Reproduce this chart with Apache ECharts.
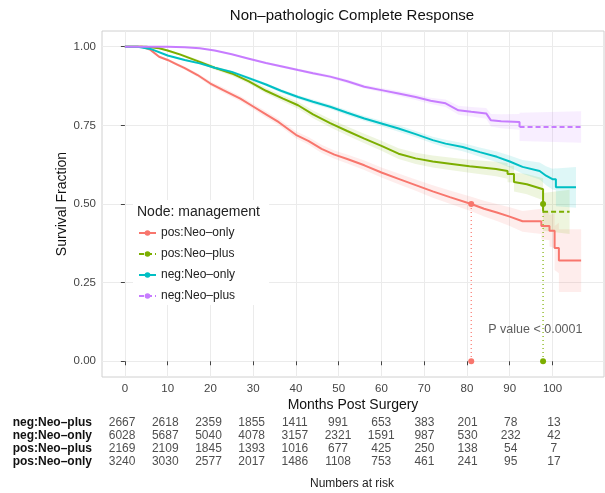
<!DOCTYPE html>
<html><head><meta charset="utf-8">
<script src="https://cdn.jsdelivr.net/npm/echarts@6/dist/echarts.min.js"></script>
<style>html,body{margin:0;padding:0;background:#fff}#c{width:605px;height:493px}</style>
</head><body><div id="c"></div>
<script>
// ---------- data ----------
const groups = ['pos:Neo–only', 'pos:Neo–plus', 'neg:Neo–only', 'neg:Neo–plus'];
const colors = ['#F8766D', '#7CAE00', '#00BFC4', '#C77CFF'];
const xTicks = [0, 10, 20, 30, 40, 50, 60, 70, 80, 90, 100];
const yTicks = [0, 0.25, 0.5, 0.75, 1];

// pos:Neo-only
const posOnlyT = [0,4,6,8,10,12,14,17,20,23,27,30,33,36,40,43,46,49,52,56,60,64,68,72,76,81,84,87,90,93,97.4,97.4,99.3,99.3,100.5,100.5,101.5,101.5,106.7];
const posOnlyS = [1,1,0.99,0.968,0.958,0.945,0.932,0.91,0.883,0.862,0.835,0.81,0.785,0.76,0.72,0.70,0.675,0.657,0.643,0.623,0.60,0.58,0.56,0.54,0.522,0.50,0.485,0.473,0.46,0.445,0.445,0.43,0.43,0.415,0.415,0.36,0.36,0.32,0.32];
const posOnlyCI = [0,0,0.002,0.003,0.004,0.005,0.005,0.006,0.007,0.008,0.008,0.009,0.01,0.01,0.011,0.012,0.013,0.013,0.014,0.015,0.016,0.017,0.018,0.02,0.021,0.023,0.025,0.027,0.03,0.033,0.04,0.042,0.045,0.05,0.055,0.07,0.08,0.1,0.1];

// pos:Neo-plus
const posPlusT = [0,5,8,10,13,17.5,21,25,29,33,37,40.5,44,48,52,56,60,64,68,72,76,80.6,86.8,89.5,89.5,91,91,94,97.8,97.8,104];
const posPlusS = [1,1,0.995,0.988,0.975,0.952,0.933,0.915,0.89,0.86,0.835,0.814,0.785,0.757,0.732,0.708,0.685,0.66,0.645,0.635,0.628,0.62,0.611,0.605,0.595,0.595,0.57,0.563,0.547,0.475,0.475];
const posPlusCI = [0,0,0.002,0.003,0.004,0.005,0.006,0.007,0.008,0.009,0.01,0.011,0.012,0.013,0.014,0.015,0.016,0.017,0.018,0.019,0.02,0.021,0.023,0.025,0.026,0.027,0.03,0.032,0.035,0.06,0.07];

// neg:Neo-only
const negOnlyT = [0,3,6,10,14,17.5,21,25,29,33,36.5,40.5,44,48,52,56,60,64,68,72,75,79,83,87,90,93,97,98.5,100,100.8,100.8,105.5];
const negOnlyS = [1,1,0.993,0.972,0.958,0.947,0.933,0.92,0.9,0.88,0.86,0.84,0.825,0.809,0.79,0.772,0.756,0.74,0.722,0.703,0.692,0.681,0.665,0.65,0.635,0.618,0.605,0.59,0.579,0.579,0.553,0.553];
const negOnlyCI = [0,0,0.001,0.002,0.003,0.003,0.004,0.004,0.005,0.005,0.006,0.006,0.007,0.007,0.008,0.008,0.009,0.01,0.01,0.011,0.012,0.013,0.015,0.017,0.019,0.022,0.027,0.03,0.033,0.035,0.06,0.065];

// neg:Neo-plus
const negPlusT = [0,10,14,17.5,21,25,29,33,36.5,40.5,44,48,52,56,60,64,68,71.5,75,78,81,84.5,85.6,88,92.3,92.3,106.7];
const negPlusS = [1,1,0.998,0.995,0.988,0.976,0.962,0.948,0.938,0.926,0.916,0.905,0.89,0.873,0.862,0.851,0.84,0.828,0.82,0.798,0.793,0.788,0.766,0.763,0.761,0.745,0.745];
const negPlusCI = [0,0,0.001,0.001,0.002,0.002,0.003,0.003,0.004,0.004,0.005,0.005,0.006,0.006,0.007,0.008,0.009,0.01,0.012,0.014,0.015,0.017,0.02,0.022,0.025,0.045,0.05];

// median survival markers (red, green)
const medianTimes = [81, 97.8];
const medianGroupIdx = [0, 1];
const medianLevel = 0.5;

const pValueText = 'P value < 0.0001';
const pValuePos = [96, 0.1];

// numbers at risk
const riskRows = ['neg:Neo–plus', 'neg:Neo–only', 'pos:Neo–plus', 'pos:Neo–only'];
const riskTimes = [0, 10, 20, 30, 40, 50, 60, 70, 80, 90, 100];
const riskNegPlus = [2667, 2618, 2359, 1855, 1411, 991, 653, 383, 201, 78, 13];
const riskNegOnly = [6028, 5687, 5040, 4078, 3157, 2321, 1591, 987, 530, 232, 42];
const riskPosPlus = [2169, 2109, 1845, 1393, 1016, 677, 425, 250, 138, 54, 7];
const riskPosOnly = [3240, 3030, 2577, 2017, 1486, 1108, 753, 461, 241, 95, 17];

// ---------- build ----------
const FONT = 'Liberation Sans, Arial, Helvetica, sans-serif';
const curves = [
  {name: groups[0], T: posOnlyT, S: posOnlyS, CI: posOnlyCI, color: colors[0], dashedTail: false},
  {name: groups[1], T: posPlusT, S: posPlusS, CI: posPlusCI, color: colors[1], dashedTail: true},
  {name: groups[2], T: negOnlyT, S: negOnlyS, CI: negOnlyCI, color: colors[2], dashedTail: false},
  {name: groups[3], T: negPlusT, S: negPlusS, CI: negPlusCI, color: colors[3], dashedTail: true}
];
const series = [];
curves.forEach((c, i) => {
  const rows = c.T.map((t, k) => [t, c.S[k] - c.CI[k], c.S[k] + c.CI[k]]);
  series.push({type: 'custom', name: 'ci-' + i, xAxisIndex: 0, yAxisIndex: 0, data: rows,
    encode: {x: 0, y: [1, 2]}, silent: true, z: 1, animation: false, clip: true,
    renderItem: (params, api) => {
      if (params.dataIndex !== 0) return null;
      const up = rows.map(r => api.coord([r[0], r[2]]));
      const lo = rows.map(r => api.coord([r[0], r[1]])).reverse();
      return {type: 'polygon', shape: {points: up.concat(lo)}, style: {fill: c.color, opacity: 0.13}};
    }});
});
curves.forEach((c, i) => {
  const P = c.T.map((t, k) => [t, c.S[k]]);
  const n = P.length;
  const base = {type: 'line', name: c.name, xAxisIndex: 0, yAxisIndex: 0, symbol: 'circle', showSymbol: false,
    itemStyle: {color: c.color}, z: 3, animation: false, silent: true};
  if (c.dashedTail) {
    series.push(Object.assign({}, base, {data: P.slice(n - 2), lineStyle: {color: c.color, width: 2, type: [5, 3]}}));
    series.push(Object.assign({}, base, {data: P.slice(0, n - 1), lineStyle: {color: c.color, width: 2}}));
  } else {
    series.push(Object.assign({}, base, {data: P, lineStyle: {color: c.color, width: 2}}));
  }
});
medianTimes.forEach((mt, k) => {
  const col = colors[medianGroupIdx[k]];
  series.push({type: 'line', name: 'median-' + k, xAxisIndex: 0, yAxisIndex: 0,
    data: [[mt, medianLevel], [mt, 0]], symbol: 'circle', symbolSize: 6, showSymbol: true,
    lineStyle: {color: col, width: 1.2, type: [1, 3]}, itemStyle: {color: col}, z: 4, animation: false, silent: true});
});
series.push({type: 'scatter', name: 'pvalue', xAxisIndex: 0, yAxisIndex: 0, data: [pValuePos], symbolSize: 0,
  label: {show: true, position: 'inside', formatter: pValueText, fontSize: 12.5, color: '#333', fontFamily: FONT}, silent: true, animation: false});

const riskData = [riskNegPlus, riskNegOnly, riskPosPlus, riskPosOnly];
riskData.forEach((arr, r) => {
  series.push({type: 'scatter', name: 'risk-' + r, xAxisIndex: 1, yAxisIndex: 1,
    data: riskTimes.map((t, k) => [t, r, arr[k]]), symbolSize: 0, encode: {x: 0, y: 1},
    label: {show: true, position: 'inside', formatter: p => String(p.value[2]), fontSize: 12, color: '#222', fontFamily: FONT},
    silent: true, animation: false});
});

const chart = echarts.init(document.getElementById('c'));
chart.setOption({
  animation: false,
  backgroundColor: '#fff',
  textStyle: {fontFamily: FONT},
  title: [
    {text: 'Non–pathologic Complete Response', left: 352, top: 8, textAlign: 'center', padding: 0,
      textStyle: {fontSize: 15, fontWeight: 'normal', color: '#111', fontFamily: FONT}},
    {text: 'Node: management', left: 137, top: 205, padding: 0, z: 10,
      textStyle: {fontSize: 14, fontWeight: 'normal', color: '#222', fontFamily: FONT}},
    {text: 'Numbers at risk', left: 352, top: 478, textAlign: 'center', padding: 0,
      textStyle: {fontSize: 12, fontWeight: 'normal', color: '#222', fontFamily: FONT}}
  ],
  legend: {
    data: groups, orient: 'vertical', left: 133, top: 200, padding: [26, 34, 2, 5],
    itemGap: 7, itemWidth: 17, itemHeight: 7, backgroundColor: '#fff', selectedMode: false,
    textStyle: {fontSize: 12, color: '#222', lineHeight: 14, fontFamily: FONT}
  },
  grid: [
    {left: 102, top: 31, width: 502, height: 346, show: true, borderColor: '#d0d0d0', borderWidth: 1,
      backgroundColor: '#fff', containLabel: false, outerBoundsMode: 'none'},
    {left: 99, top: 416, width: 507, height: 52.4, show: false, containLabel: false, outerBoundsMode: 'none'}
  ],
  xAxis: [
    {gridIndex: 0, type: 'value', min: -5.35, max: 112.05,
      axisLine: {show: false},
      axisTick: {show: true, customValues: xTicks, length: 4, lineStyle: {color: '#444'}},
      axisLabel: {customValues: xTicks, fontSize: 11.5, color: '#444', margin: 6, fontFamily: FONT},
      splitLine: {show: true, lineStyle: {color: '#ebebeb', width: 1}},
      name: 'Months Post Surgery', nameLocation: 'middle', nameGap: 21, nameMoveOverlap: false,
      nameTextStyle: {fontSize: 14, color: '#111', fontFamily: FONT}},
    {gridIndex: 1, type: 'value', min: -5.35, max: 112.05, show: false}
  ],
  yAxis: [
    {gridIndex: 0, type: 'value', min: -0.05, max: 1.05,
      axisLine: {show: false},
      axisTick: {show: true, customValues: yTicks, length: 4, lineStyle: {color: '#444'}},
      axisLabel: {customValues: yTicks, fontSize: 11.5, color: '#444', margin: 6, fontFamily: FONT,
        formatter: v => v.toFixed(2)},
      splitLine: {show: true, lineStyle: {color: '#ebebeb', width: 1}},
      name: 'Survival Fraction', nameLocation: 'middle', nameGap: 33, nameMoveOverlap: false,
      nameTextStyle: {fontSize: 14, color: '#111', fontFamily: FONT}},
    {gridIndex: 1, type: 'category', data: riskRows, inverse: true,
      axisLine: {show: false}, axisTick: {show: false}, splitLine: {show: false},
      axisLabel: {interval: 0, fontSize: 12, fontWeight: 'bold', color: '#111', margin: 7, fontFamily: FONT}}
  ],
  series: series
});
</script>
</body></html>
